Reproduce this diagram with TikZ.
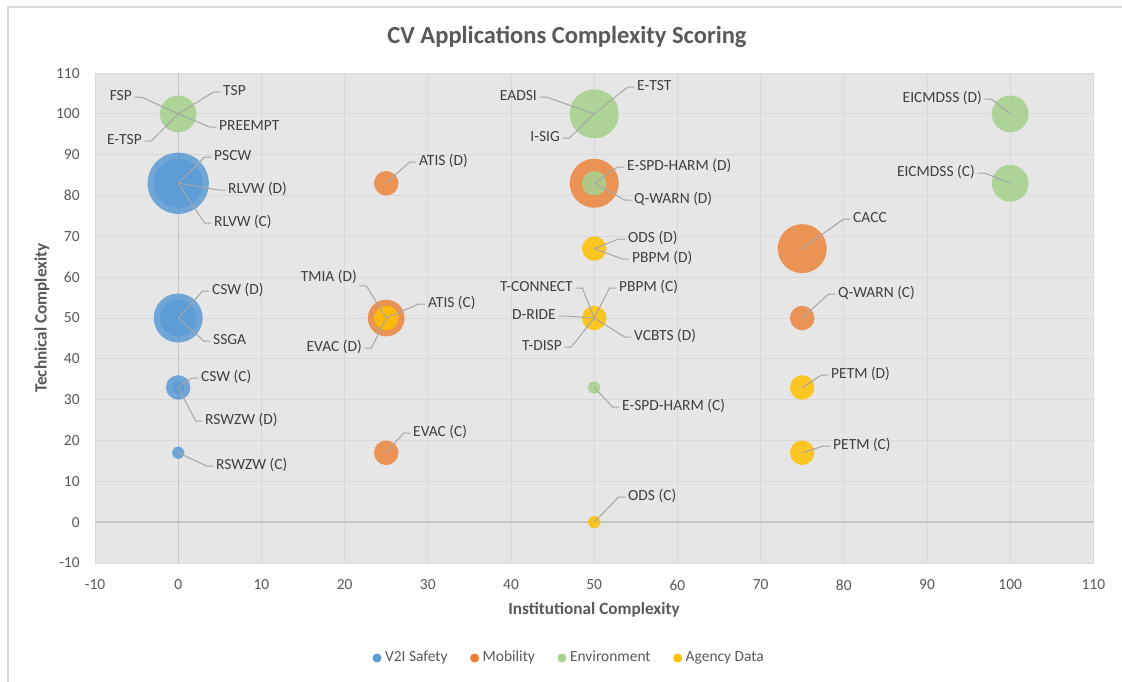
\documentclass[tikz,border=0pt]{standalone}
\usepackage{fontspec}
\setmainfont{Carlito}
\usetikzlibrary{positioning}
\providecommand{\bub}[3]{\fill[#1] (#2) circle[radius={4.59pt*sqrt(#3)}];}
\providecommand{\ldr}[2]{\draw[leader] (#1) -- ([xshift=-5pt]#2.west) -- (#2.west);}
\providecommand{\rdl}[2]{\draw[leader] (#1) -- ([xshift=5pt]#2.east) -- (#2.east);}
\definecolor{v2iblue}{HTML}{5B9BD5}
\definecolor{mobor}{HTML}{ED7D31}
\definecolor{envgreen}{HTML}{A9D18E}
\definecolor{agyyellow}{HTML}{FFC000}
\definecolor{plotbg}{HTML}{E6E6E6}
\definecolor{gridgray}{HTML}{D9D9D9}
\definecolor{zerogray}{HTML}{C4C4C4}
\definecolor{leadergray}{HTML}{A6A6A6}
\definecolor{labelgray}{HTML}{404040}
\definecolor{tickgray}{HTML}{595959}
\definecolor{framegray}{HTML}{D9D9D9}

\begin{document}
\begin{tikzpicture}[
  x=0.75pt, y=-0.75pt,
  font=\fontsize{11.6}{13.9}\selectfont,
  lbl/.style={inner xsep=2pt, inner ysep=1pt, text=labelgray,
              text height=.75em, text depth=.2em},
  lblr/.style={lbl, anchor=west},
  lbll/.style={lbl, anchor=east},
  leader/.style={draw=leadergray, line width=.75pt},
  tick/.style={text=tickgray, inner sep=1pt},
  axt/.style={text=tickgray, font=\bfseries\fontsize{12.9}{15}\selectfont},
  gridln/.style={draw=gridgray, line width=.75pt},
  zeroln/.style={draw=zerogray, line width=1.1pt},
  v2i/.style={fill=v2iblue, fill opacity=.85},
  mob/.style={fill=mobor, fill opacity=.8},
  env/.style={fill=envgreen, fill opacity=.9},
  agy/.style={fill=agyyellow, fill opacity=.85},
  legdot/.style={circle, inner sep=0pt, minimum size=6.75pt},
  legtxt/.style={inner sep=0pt, text=tickgray, text height=.75em, text depth=.2em},
]
\useasboundingbox (0,0) rectangle (1122,682);
\fill[white] (0,0) rectangle (1122,682);
\draw[framegray, line width=1pt] (8,682) -- (8,7) -- (1122,7);

% ---------------- title ----------------
\node[text=tickgray, font=\bfseries\fontsize{18.4}{22}\selectfont] (title) at (567,37)
  {CV Applications Complexity Scoring};

% ---------------- plot area in data units ----------------
\begin{scope}[shift={(178.2,522.17)}, x=6.24pt, y=3.0623pt]
\fill[plotbg] (-10,-10) rectangle (110,110);
\draw[gridln] (-10,-10) grid[xstep=10, ystep=10] (110,110);
\draw[zeroln, line width=.8pt] (0,-10) -- (0,110);
\draw[zeroln] (-10,0) -- (110,0);

\foreach \v in {-10,0,...,110}
  \node[tick, yshift=-16.5pt] (xt\v) at (\v,-10) {\v};
\foreach \v in {-10,0,...,110}
  \node[tick, anchor=east, xshift=-10.3pt] (yt\v) at (-10,\v) {\v};

% bubble centres
\coordinate (pFSP)    at (0,100);
\coordinate (pPSCW)   at (0,83);
\coordinate (pCSWd)   at (0,50);
\coordinate (pCSWc)   at (0,33);
\coordinate (pRSWZWc) at (0,17);
\coordinate (pATISd)  at (25,83);
\coordinate (pATISc)  at (25,50);
\coordinate (pEVACc)  at (25,17);
\coordinate (pEADSI)  at (50,100);
\coordinate (pQWARNd) at (50,83);
\coordinate (pODSd)   at (50,67);
\coordinate (pDRIDE)  at (50,50);
\coordinate (pESPDc)  at (50,33);
\coordinate (pODSc)   at (50,0);
\coordinate (pCACC)   at (75,67);
\coordinate (pQWARNc) at (75,50);
\coordinate (pPETMd)  at (75,33);
\coordinate (pPETMc)  at (75,17);
\coordinate (pEICd)   at (100,100);
\coordinate (pEICc)   at (100,83);
\end{scope}

% ---------------- bubbles (size = area) ----------------
% V2I Safety
\bub{v2i}{pPSCW}{25}
\bub{v2i}{pPSCW}{16}
\bub{v2i}{pCSWd}{16}
\bub{v2i}{pCSWd}{9}
\bub{v2i}{pCSWc}{4}
\bub{v2i}{pCSWc}{1}
\bub{v2i}{pRSWZWc}{1}
% Mobility
\bub{mob}{pATISd}{4}
\bub{mob}{pATISc}{9}
\bub{mob}{pEVACc}{4}
\bub{mob}{pQWARNd}{16}
\bub{mob}{pCACC}{16}
\bub{mob}{pQWARNc}{4}
% Environment
\bub{env}{pFSP}{9}
\bub{env}{pEADSI}{16}
\bub{env}{pQWARNd}{4}
\bub{env}{pESPDc}{1}
\bub{env}{pEICd}{9}
\bub{env}{pEICc}{9}
% Agency Data
\bub{agy}{pATISc}{4}
\bub{agy}{pODSd}{4}
\bub{agy}{pDRIDE}{4}
\bub{agy}{pODSc}{1}
\bub{agy}{pPETMd}{4}
\bub{agy}{pPETMc}{4}

% ---------------- data labels ----------------
\node[lbll] (lFSP)     at (134.7,97)  {FSP};
\node[lblr] (lTSP)     at (220.3,92)  {TSP};
\node[lblr] (lPREEMPT) at (216.3,127) {PREEMPT};
\node[lbll] (lETSP)    at (144.7,141) {E-TSP};
\node[lblr] (lPSCW)    at (211.3,157) {PSCW};
\node[lblr] (lRLVWd)   at (225.3,190) {RLVW (D)};
\node[lblr] (lRLVWc)   at (211.3,223) {RLVW (C)};
\node[lblr] (lCSWd)    at (209.3,291) {CSW (D)};
\node[lblr] (lSSGA)    at (210.3,341) {SSGA};
\node[lblr] (lCSWc)    at (198.3,378) {CSW (C)};
\node[lblr] (lRSWZWd)  at (202.3,421) {RSWZW (D)};
\node[lblr] (lRSWZWc)  at (213.3,466) {RSWZW (C)};
\node[lblr] (lATISd)   at (416.3,162) {ATIS (D)};
\node[lbll] (lTMIAd)   at (359.7,278) {TMIA (D)};
\node[lblr] (lATISc)   at (425.3,304) {ATIS (C)};
\node[lbll] (lEVACd)   at (364.7,348) {EVAC (D)};
\node[lblr] (lEVACc)   at (410.3,433) {EVAC (C)};
\node[lbll] (lEADSI)   at (539.7,97)  {EADSI};
\node[lblr] (lETST)    at (634.3,87)  {E-TST};
\node[lbll] (lISIG)    at (562.7,138) {I-SIG};
\node[lblr] (lESPDd)   at (624.3,167) {E-SPD-HARM (D)};
\node[lblr] (lQWARNd)  at (631.3,200) {Q-WARN (D)};
\node[lblr] (lODSd)    at (625.3,239) {ODS (D)};
\node[lblr] (lPBPMd)   at (629.3,259) {PBPM (D)};
\node[lbll] (lTCONN)   at (575.7,288) {T-CONNECT};
\node[lblr] (lPBPMc)   at (616.3,288) {PBPM (C)};
\node[lbll] (lDRIDE)   at (558.7,316) {D-RIDE};
\node[lblr] (lVCBTSd)  at (631.3,337) {VCBTS (D)};
\node[lbll] (lTDISP)   at (564.7,347) {T-DISP};
\node[lblr] (lESPDc)   at (619.3,407) {E-SPD-HARM (C)};
\node[lblr] (lODSc)    at (625.3,497) {ODS (C)};
\node[lblr] (lCACC)    at (850.3,219) {CACC};
\node[lblr] (lQWARNc)  at (835.3,294) {Q-WARN (C)};
\node[lblr] (lPETMd)   at (828.3,375) {PETM (D)};
\node[lblr] (lPETMc)   at (830.3,446) {PETM (C)};
\node[lbll] (lEICd)    at (984.7,99)  {EICMDSS (D)};
\node[lbll] (lEICc)    at (977.7,173) {EICMDSS (C)};

% ---------------- leader lines: centre --> elbow --> label ----------------
\rdl{pFSP}{lFSP}
\ldr{pFSP}{lTSP}
\ldr{pFSP}{lPREEMPT}
\rdl{pFSP}{lETSP}
\ldr{pPSCW}{lPSCW}
\ldr{pPSCW}{lRLVWd}
\ldr{pPSCW}{lRLVWc}
\ldr{pCSWd}{lCSWd}
\ldr{pCSWd}{lSSGA}
\ldr{pCSWc}{lCSWc}
\ldr{pCSWc}{lRSWZWd}
\ldr{pRSWZWc}{lRSWZWc}
\ldr{pATISd}{lATISd}
\draw[leader] (pATISc) -- ([xshift=5pt]lTMIAd.south east) -- (lTMIAd.south east);
\ldr{pATISc}{lATISc}
\rdl{pATISc}{lEVACd}
\ldr{pEVACc}{lEVACc}
\rdl{pEADSI}{lEADSI}
\ldr{pEADSI}{lETST}
\rdl{pEADSI}{lISIG}
\ldr{pQWARNd}{lESPDd}
\ldr{pQWARNd}{lQWARNd}
\ldr{pODSd}{lODSd}
\ldr{pODSd}{lPBPMd}
\rdl{pDRIDE}{lTCONN}
\ldr{pDRIDE}{lPBPMc}
\rdl{pDRIDE}{lDRIDE}
\ldr{pDRIDE}{lVCBTSd}
\rdl{pDRIDE}{lTDISP}
\ldr{pESPDc}{lESPDc}
\ldr{pODSc}{lODSc}
\ldr{pCACC}{lCACC}
\ldr{pQWARNc}{lQWARNc}
\ldr{pPETMd}{lPETMd}
\ldr{pPETMc}{lPETMc}
\rdl{pEICd}{lEICd}
\rdl{pEICc}{lEICc}

% ---------------- axis titles ----------------
\node[axt] (xtitle) at (594,610) {Institutional Complexity};
\node[axt, rotate=90] (ytitle) at (42,318) {Technical Complexity};

% ---------------- legend ----------------
\node[legdot, fill=v2iblue] (lg1) at (377,658) {};
\node[legtxt, right=2.25pt of lg1] (lt1) {V2I Safety};
\node[legdot, fill=mobor, right=16.5pt of lt1] (lg2) {};
\node[legtxt, right=2.25pt of lg2] (lt2) {Mobility};
\node[legdot, fill=envgreen, right=16.5pt of lt2] (lg3) {};
\node[legtxt, right=2.25pt of lg3] (lt3) {Environment};
\node[legdot, fill=agyyellow, right=16.5pt of lt3] (lg4) {};
\node[legtxt, right=2.25pt of lg4] (lt4) {Agency Data};

\end{tikzpicture}
\end{document}
